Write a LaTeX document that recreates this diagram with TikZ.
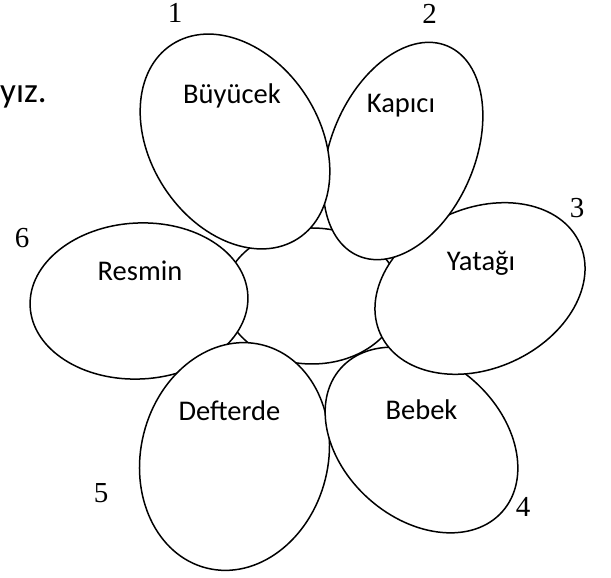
\documentclass[tikz,border=0pt]{standalone}
\usepackage{fontspec}
\setmainfont{Liberation Serif}
\newfontfamily\petalfont{Carlito}

\begin{document}
\begin{tikzpicture}[x=1pt, y=1pt,
    petal/.style={draw, fill=white, line width=1.5pt},
    word/.style={font=\petalfont\fontsize{28.5}{34}\selectfont, anchor=base, inner sep=0pt},
    num/.style={font=\fontsize{29}{34}\selectfont, inner sep=0pt}]
                \useasboundingbox (0,0) rectangle (611,578);
                \draw[petal] (312,282) ellipse [x radius=88pt, y radius=68pt];
                \draw[petal] (139,277) ellipse [x radius=109pt, y radius=78pt, rotate=3];
                \draw[petal] (234.5,121.5) ellipse [x radius=93.6pt, y radius=115pt, rotate=-14];
                \draw[petal] (421.5,138) ellipse [x radius=108pt, y radius=79pt, rotate=-41.5];
                \draw[petal] (480,289.5) ellipse [x radius=109.5pt, y radius=80pt, rotate=24.5];
                \draw[petal] (403,427) ellipse [x radius=72pt, y radius=114pt, rotate=-23];
                \draw[petal] (235,436.5) ellipse [x radius=84.5pt, y radius=115.7pt, rotate=33];
                \node[word] (buyucek) at (232,474) {Büyücek};
                \node[word] (kapici) at (401,465) {Kapıcı};
                \node[word] (yatagi) at (481,307) {Yatağı};
                \node[word] (bebek) at (421.5,158) {Bebek};
                \node[word] (defterde) at (229.5,157) {Defterde};
                \node[word] (resmin) at (140,297) {Resmin};
                \node[num] (n1) at (175,565) {1};
                \node[num] (n2) at (429.5,564) {2};
                \node[num] (n3) at (577,370) {3};
                \node[num] (n4) at (523,71) {4};
                \node[num] (n5) at (101,85) {5};
                \node[num] (n6) at (22,340) {6};
                \node[word, font=\petalfont\fontsize{35}{40}\selectfont, anchor=base west] (yiz) at (0,475.5) {yız.};
            \end{tikzpicture}
\end{document}
